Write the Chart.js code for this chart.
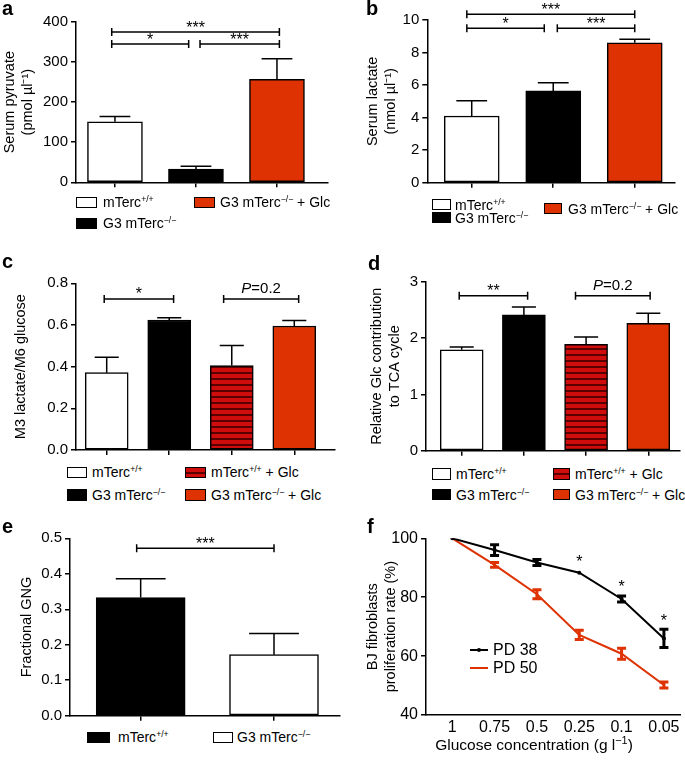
<!DOCTYPE html>
<html><head><meta charset="utf-8">
<script src="https://cdn.jsdelivr.net/npm/chart.js@4.4.1/dist/chart.umd.min.js"></script>
<style>
html,body{margin:0;padding:0;background:#fff;}
#fig{position:relative;width:685px;height:763px;overflow:hidden;font-family:'Liberation Sans',Arial,sans-serif;color:#000;}
#fig canvas{position:absolute;}
.lbl{position:absolute;white-space:nowrap;font-size:14px;line-height:14px;}
.sup{font-size:0.62em;position:relative;top:-0.55em;}
.box{position:absolute;box-sizing:border-box;border:1.5px solid #000;}
.letter{position:absolute;font-weight:bold;font-size:20px;line-height:20px;}
</style></head><body><div id="fig"></div>
<script>
// ---------------- DATA ----------------
const catsAB = ['mTerc+/+', 'G3 mTerc−/−', 'G3 mTerc−/− + Glc'];
const pyruvate = [151, 33, 257];
const pyruvateErr = [13, 7, 51];
const lactate = [4.1, 5.64, 8.6];
const lactateErr = [0.94, 0.51, 0.21];
const catsCD = ['mTerc+/+', 'G3 mTerc−/−', 'mTerc+/+ + Glc', 'G3 mTerc−/− + Glc'];
const m3m6 = [0.371, 0.624, 0.405, 0.595];
const m3m6Err = [0.074, 0.011, 0.097, 0.027];
const tcaContribution = [1.79, 2.41, 1.89, 2.26];
const tcaErr = [0.05, 0.14, 0.13, 0.18];
const catsE = ['mTerc+/+', 'G3 mTerc−/−'];
const gng = [0.333, 0.172];
const gngErr = [0.053, 0.06];
const glucoseLabels = ['1', '0.75', '0.5', '0.25', '0.1', '0.05'];
const pd38 = [100, 96.0, 91.8, 88.3, 79.4, 66.0];
const pd38Err = [0, 1.8, 1.0, 0, 1.0, 3.1];
const pd50 = [100, 91.0, 81.0, 67.2, 60.8, 50.2];
const pd50Err = [0, 0.8, 1.5, 1.6, 1.9, 1.0];

// ---------------- STYLE ----------------
const RED = '#de3202', SRED = '#cf0d0d', SDARK = '#5a0000';
Chart.defaults.font.family = "'Liberation Sans', Arial, sans-serif";
Chart.defaults.color = '#000';
function stripePattern(){
  const c = document.createElement('canvas'); c.width = 4; c.height = 6;
  const g = c.getContext('2d');
  g.fillStyle = SRED; g.fillRect(0,0,4,6);
  g.fillStyle = SDARK; g.fillRect(0,4,4,2);
  return g.createPattern(c, 'repeat');
}
const FILL = {white:'#ffffff', black:'#000000', red:RED, stripe:stripePattern()};
const CSSFILL = {white:'#fff', black:'#000', red:RED,
  stripe:`repeating-linear-gradient(to bottom, ${SRED} 0px, ${SRED} 4px, ${SDARK} 4px, ${SDARK} 6px)`};

const fig = document.getElementById('fig');

// ---------------- PLUGIN: error bars, brackets, stars ----------------
const annot = {
  id: 'annot',
  afterDatasetsDraw(chart, args, opts) {
    const {ctx} = chart; const xs = chart.scales.x, ys = chart.scales.y;
    ctx.save();
    chart.data.datasets.forEach((ds) => {
      if (!ds.errors) return;
      const isLine = chart.config.type === 'line';
      ctx.strokeStyle = isLine ? ds.borderColor : '#000';
      ctx.lineWidth = isLine ? 3 : 1.5;
      ds.data.forEach((d, i) => {
        const e = ds.errors[i]; if (!e) return;
        const px = xs.getPixelForValue(d.x);
        const yTop = ys.getPixelForValue(d.y + e);
        const yBot = isLine ? ys.getPixelForValue(d.y - e) : ys.getPixelForValue(d.y);
        const cw = isLine ? 4.5 : (ds.barThickness * 0.28);
        ctx.beginPath();
        ctx.moveTo(px, yBot); ctx.lineTo(px, yTop);
        ctx.moveTo(px - cw, yTop); ctx.lineTo(px + cw, yTop);
        if (isLine) { ctx.moveTo(px - cw, yBot); ctx.lineTo(px + cw, yBot); }
        ctx.stroke();
      });
    });
    ctx.strokeStyle = '#000'; ctx.fillStyle = '#000'; ctx.lineWidth = 1.5;
    (opts.brackets || []).forEach(b => {
      const x1 = xs.getPixelForValue(b.x1), x2 = xs.getPixelForValue(b.x2), y = ys.getPixelForValue(b.y);
      ctx.beginPath();
      ctx.moveTo(x1, y); ctx.lineTo(x2, y);
      ctx.moveTo(x1, y - 4); ctx.lineTo(x1, y + 4);
      ctx.moveTo(x2, y - 4); ctx.lineTo(x2, y + 4);
      ctx.stroke();
      const cx = (x1 + x2) / 2;
      ctx.textBaseline = 'alphabetic';
      if (b.label.startsWith('P')) {
        const rest = b.label.slice(1);
        ctx.font = "italic 15px 'Liberation Sans', Arial, sans-serif";
        const wP = ctx.measureText('P').width;
        ctx.font = "15px 'Liberation Sans', Arial, sans-serif";
        const wR = ctx.measureText(rest).width;
        const sx = cx - (wP + wR) / 2;
        ctx.textAlign = 'left';
        ctx.font = "italic 15px 'Liberation Sans', Arial, sans-serif";
        ctx.fillText('P', sx, y - 6);
        ctx.font = "15px 'Liberation Sans', Arial, sans-serif";
        ctx.fillText(rest, sx + wP, y - 6);
      } else {
        ctx.font = "16px 'Liberation Sans', Arial, sans-serif";
        ctx.textAlign = 'center';
        ctx.fillText(b.label, cx, y + 0.5);
      }
    });
    (opts.stars || []).forEach(s => {
      ctx.font = "16px 'Liberation Sans', Arial, sans-serif";
      ctx.textAlign = 'center'; ctx.textBaseline = 'alphabetic';
      ctx.fillText('*', xs.getPixelForValue(s.x), ys.getPixelForValue(s.y) + 9);
    });
    ctx.restore();
  }
};

function makeCanvas(x0, y0, w, h){
  const cv = document.createElement('canvas');
  cv.width = w; cv.height = h;
  cv.style.left = x0 + 'px'; cv.style.top = y0 + 'px';
  cv.style.width = w + 'px'; cv.style.height = h + 'px';
  fig.appendChild(cv);
  return cv;
}
const axisGrid = {display:true, drawOnChartArea:false, drawTicks:true, tickLength:5, color:'#000', lineWidth:1.5, offset:false};
const axisBorder = {display:true, color:'#000', width:1.5};

function barPanel(p){
  const cv = makeCanvas(p.x0, p.y0, p.w, p.h);
  new Chart(cv, {
    type:'bar',
    data:{datasets:[{
      data: p.values.map((v,i)=>({x:i, y:v})),
      errors: p.errors,
      backgroundColor: p.fills.map(f=>FILL[f]),
      borderColor:'#000', borderWidth:1.5, borderSkipped:false,
      barThickness: p.barW
    }]},
    options:{
      responsive:false, animation:false, events:[], devicePixelRatio:1,
      layout:{padding:{left:0, top:p.area.t - p.y0, right:p.x0 + p.w - p.area.r, bottom:0}},
      plugins:{legend:{display:false}, tooltip:{enabled:false}, annot:{brackets:p.brackets}},
      scales:{
        x:{type:'linear', min:p.xMin, max:p.xMax, offset:false,
           afterBuildTicks:s=>{ s.ticks = p.cats.map((c,i)=>({value:i})); },
           ticks:{display:false}, grid:axisGrid, border:axisBorder,
           afterFit:s=>{ s.height = p.y0 + p.h - p.area.b; }},
        y:{min:0, max:p.yMax, beginAtZero:true,
           ticks:{stepSize:p.yStep, color:'#000', font:{size:15}, padding:3, callback:v=>Number(v).toFixed(p.yDec)},
           grid:axisGrid, border:axisBorder,
           title:{display:true, text:p.title, color:'#000', font:{size:14.5, lineHeight:1.25}, padding:{top:p.titlePad, bottom:0}},
           afterFit:s=>{ s.width = p.area.l - p.x0; }}
      }
    },
    plugins:[annot]
  });
}

function supText(t){
  return t.replace(/mTerc(\+\/\+|−\/−)/g, 'mTerc<span class="sup">$1</span>');
}
function legend(items){
  items.forEach(it => {
    const b = document.createElement('div');
    b.className = 'box';
    b.style.left = it.box[0] + 'px'; b.style.top = it.box[1] + 'px';
    b.style.width = it.box[2] + 'px'; b.style.height = it.box[3] + 'px';
    b.style.background = CSSFILL[it.fill];
    fig.appendChild(b);
    const t = document.createElement('div');
    t.className = 'lbl';
    t.style.left = it.tx + 'px'; t.style.top = (it.ty - 7) + 'px';
    t.innerHTML = supText(it.text);
    fig.appendChild(t);
  });
}
function letter(ch, x, baseline){
  const d = document.createElement('div');
  d.className = 'letter'; d.textContent = ch;
  d.style.left = x + 'px'; d.style.top = (baseline - 17) + 'px';
  fig.appendChild(d);
}

// ---------------- PANEL a ----------------
barPanel({x0:0, y0:0, w:340, h:195, area:{l:76, t:22, r:328, b:182.3},
  xMin:-0.481, xMax:2.63, barW:55,
  cats:catsAB, values:pyruvate, errors:pyruvateErr, fills:['white','black','red'],
  yMax:400, yStep:100, yDec:0, title:['Serum pyruvate','(pmol µl⁻¹)'], titlePad:1,
  brackets:[{x1:-0.04, x2:2.03, y:375, label:'***'},{x1:-0.04, x2:0.91, y:345, label:'*'},{x1:1.05, x2:2.03, y:345, label:'***'}]});
legend([
  {fill:'white', box:[76,197,21,11], tx:103, ty:202, text:catsAB[0]},
  {fill:'red', box:[194,197,21,11], tx:220, ty:202, text:catsAB[2]},
  {fill:'black', box:[76,218,21,11], tx:103, ty:223, text:catsAB[1]}
]);
letter('a', 2, 15);

// ---------------- PANEL b ----------------
barPanel({x0:340, y0:0, w:345, h:195, area:{l:427.3, t:20, r:675, b:182.7},
  xMin:-0.545, xMax:2.494, barW:55,
  cats:catsAB, values:lactate, errors:lactateErr, fills:['white','black','red'],
  yMax:10, yStep:2, yDec:0, title:['Serum lactate','(nmol µl⁻¹)'], titlePad:24,
  brackets:[{x1:-0.06, x2:2.0, y:10.35, label:'***'},{x1:-0.06, x2:0.89, y:9.49, label:'*'},{x1:1.05, x2:2.0, y:9.49, label:'***'}]});
legend([
  {fill:'white', box:[432,199,19,11], tx:455, ty:204.5, text:catsAB[0]},
  {fill:'red', box:[544,203,18,11], tx:568, ty:208.5, text:catsAB[2]},
  {fill:'black', box:[432,212,19,11], tx:455, ty:218, text:catsAB[1]}
]);
letter('b', 366, 15);

// ---------------- PANEL c ----------------
barPanel({x0:0, y0:260, w:340, h:202, area:{l:76, t:283.3, r:335, b:450},
  xMin:-0.491, xMax:3.651, barW:43,
  cats:catsCD, values:m3m6, errors:m3m6Err, fills:['white','black','stripe','red'],
  yMax:0.8, yStep:0.2, yDec:1, title:'M3 lactate/M6 glucose', titlePad:12,
  brackets:[{x1:-0.04, x2:1.07, y:0.725, label:'*'},{x1:1.87, x2:3.07, y:0.725, label:'P=0.2'}]});
legend([
  {fill:'white', box:[67,467,20,11], tx:92, ty:472, text:catsCD[0]},
  {fill:'black', box:[67,489,20,12], tx:92, ty:494.5, text:catsCD[1]},
  {fill:'stripe', box:[185,467,21,11], tx:211, ty:472, text:catsCD[2]},
  {fill:'red', box:[185,489,21,12], tx:211, ty:494.5, text:catsCD[3]}
]);
letter('c', 2, 268);

// ---------------- PANEL d ----------------
barPanel({x0:340, y0:260, w:345, h:203, area:{l:426, t:281.7, r:680, b:450.7},
  xMin:-0.574, xMax:3.51, barW:43,
  cats:catsCD, values:tcaContribution, errors:tcaErr, fills:['white','black','stripe','red'],
  yMax:3, yStep:1, yDec:0, title:['Relative Glc contribution','to TCA cycle'], titlePad:28,
  brackets:[{x1:-0.04, x2:1.06, y:2.75, label:'**'},{x1:1.83, x2:3.03, y:2.75, label:'P=0.2'}]});
legend([
  {fill:'white', box:[432,468,19,12], tx:456, ty:474, text:catsCD[0]},
  {fill:'black', box:[432,489,19,11], tx:456, ty:494.5, text:catsCD[1]},
  {fill:'stripe', box:[553,468,17,12], tx:575, ty:474, text:catsCD[2]},
  {fill:'red', box:[553,489,17,11], tx:575, ty:494.5, text:catsCD[3]}
]);
letter('d', 368, 270);

// ---------------- PANEL e ----------------
barPanel({x0:0, y0:520, w:342, h:208, area:{l:70, t:538.3, r:340, b:715.7},
  xMin:-0.53, xMax:1.495, barW:89,
  cats:catsE, values:gng, errors:gngErr, fills:['black','white'],
  yMax:0.5, yStep:0.1, yDec:1, title:'Fractional GNG', titlePad:17.6,
  brackets:[{x1:-0.03, x2:1.0, y:0.472, label:'***'}]});
legend([
  {fill:'black', box:[87,732,23,11], tx:118, ty:737, text:catsE[0]},
  {fill:'white', box:[213,732,20,11], tx:237, ty:737, text:catsE[1]}
]);
letter('e', 2, 533);

// ---------------- PANEL f ----------------
(function(){
  const x0 = 340, y0 = 520, w = 345, h = 243, area = {l:426, t:538.3, r:680, b:715};
  const cv = makeCanvas(x0, y0, w, h);
  new Chart(cv, {
    type:'line',
    data:{datasets:[
      {label:'PD 38', data:pd38.map((v,i)=>({x:i, y:v})), errors:pd38Err,
       borderColor:'#000', backgroundColor:'#000', borderWidth:2, pointRadius:2, pointBorderWidth:0},
      {label:'PD 50', data:pd50.map((v,i)=>({x:i, y:v})), errors:pd50Err,
       borderColor:RED, backgroundColor:RED, borderWidth:2, pointRadius:0}
    ]},
    options:{
      responsive:false, animation:false, events:[], devicePixelRatio:1,
      layout:{padding:{left:0, top:area.t - y0, right:x0 + w - area.r, bottom:0}},
      plugins:{legend:{display:false}, tooltip:{enabled:false},
        annot:{stars:[{x:3, y:93.2},{x:4, y:84.7},{x:5, y:73.4}]}},
      scales:{
        x:{type:'linear', min:-0.62, max:5.38, offset:false,
           afterBuildTicks:s=>{ s.ticks = glucoseLabels.map((c,i)=>({value:i})); },
           ticks:{callback:v=>glucoseLabels[v], color:'#000', font:{size:16}, padding:3, maxRotation:0, autoSkip:false},
           grid:{display:true, drawOnChartArea:false, drawTicks:false, offset:false}, border:axisBorder,
           afterFit:s=>{ s.height = y0 + h - area.b; }},
        y:{min:40, max:100,
           ticks:{stepSize:20, color:'#000', font:{size:16}, padding:3},
           grid:axisGrid, border:axisBorder,
           title:{display:true, text:['BJ fibroblasts','proliferation rate (%)'], color:'#000', font:{size:14.5, lineHeight:1.25}, padding:{top:24, bottom:0}},
           afterFit:s=>{ s.width = area.l - x0; }}
      }
    },
    plugins:[annot]
  });
  // x-axis title
  const t = document.createElement('div');
  t.className = 'lbl'; t.style.fontSize = '15.5px'; t.style.lineHeight = '16px';
  t.style.left = '534px'; t.style.top = '737px'; t.style.transform = 'translateX(-50%)';
  t.innerHTML = 'Glucose concentration (g l<span class="sup" style="font-size:0.7em">−1</span>)';
  fig.appendChild(t);
  // legend
  [['#000', 'PD 38', 650, true], [RED, 'PD 50', 668, false]].forEach(([c, txt, y, dot]) => {
    const l = document.createElement('div');
    l.style.cssText = `position:absolute;left:470px;top:${y-1}px;width:18px;height:2px;background:${c};`;
    fig.appendChild(l);
    if (dot) {
      const d = document.createElement('div');
      d.style.cssText = `position:absolute;left:477px;top:${y-2}px;width:4px;height:4px;border-radius:2px;background:${c};`;
      fig.appendChild(d);
    }
    const tx = document.createElement('div');
    tx.className = 'lbl'; tx.style.fontSize = '16px'; tx.style.lineHeight = '16px';
    tx.style.left = '493px'; tx.style.top = (y - 8) + 'px';
    tx.textContent = txt;
    fig.appendChild(tx);
  });
})();
letter('f', 367, 533);
</script></body></html>
